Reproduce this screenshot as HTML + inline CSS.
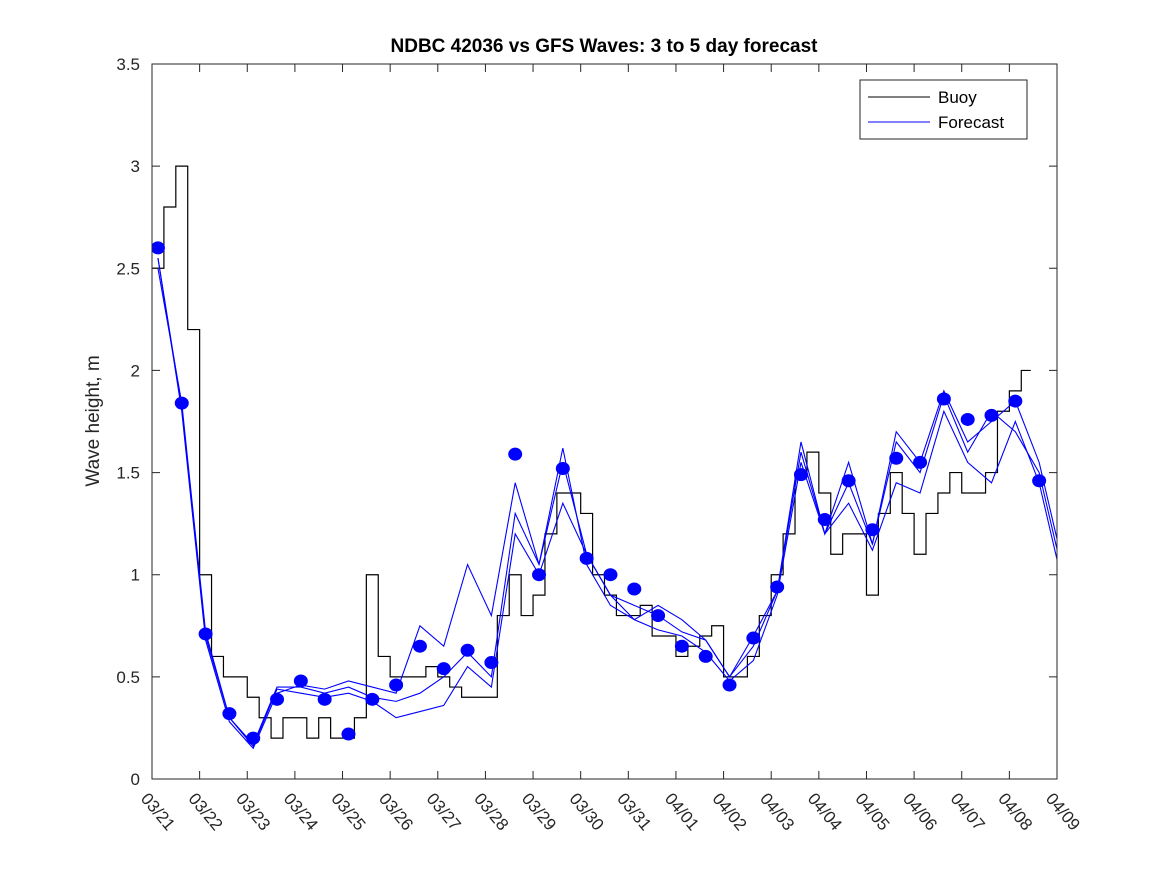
<!DOCTYPE html>
<html><head><meta charset="utf-8"><style>
body{margin:0;background:#fff;}
svg text{font-family:"Liberation Sans",sans-serif;}
</style></head><body>
<svg id="chart" width="1167" height="875" xmlns="http://www.w3.org/2000/svg">
<rect width="1167" height="875" fill="#fff"/>
<text x="604" y="52" text-anchor="middle" font-size="19" font-weight="bold" fill="#000">NDBC 42036 vs GFS Waves: 3 to 5 day forecast</text>
<text transform="translate(99,421) rotate(-90)" text-anchor="middle" font-size="19" fill="#262626">Wave height, m</text>
<defs><clipPath id="clip"><rect x="152" y="64" width="905" height="715"/></clipPath></defs>
<g id="marks" clip-path="url(#clip)"></g>
<rect x="152" y="64" width="905" height="715" fill="none" stroke="#262626" stroke-width="1"/>
<g id="ticks"></g>
<g>
<rect x="860" y="80" width="167" height="59" fill="#fff" stroke="#262626"/>
<line x1="868" y1="97" x2="930" y2="97" stroke="#000"/>
<text x="938" y="103" font-size="17">Buoy</text>
<line x1="868" y1="122" x2="930" y2="122" stroke="#0000ff"/>
<text x="938" y="128" font-size="17">Forecast</text>
</g>
</svg>
<script>
const xLabels=["03/21","03/22","03/23","03/24","03/25","03/26","03/27","03/28","03/29","03/30","03/31","04/01","04/02","04/03","04/04","04/05","04/06","04/07","04/08","04/09"];
const yTicks=[0,0.5,1,1.5,2,2.5,3,3.5];
const buoyStart=0, buoyStep=0.25;
const buoy=[2.5,2.8,3.0,2.2, 1.0,0.6,0.5,0.5, 0.4,0.3,0.2,0.3, 0.3,0.2,0.3,0.2, 0.2,0.3,1.0,0.6, 0.5,0.5,0.5,0.55, 0.5,0.45,0.4,0.4, 0.4,0.8,1.0,0.8, 0.9,1.2,1.4,1.4, 1.3,1.0,0.9,0.8, 0.8,0.85,0.7,0.7, 0.6,0.65,0.7,0.75, 0.5,0.5,0.6,0.8, 1.0,1.2,1.5,1.6, 1.4,1.1,1.2,1.2, 0.9,1.3,1.5,1.3, 1.1,1.3,1.4,1.5, 1.4,1.4,1.5,1.8, 1.9,2.0];
const fcStart=0.125, fcStep=0.5;
const obsDots=[2.6,1.84,0.71,0.32,0.20,0.39,0.48,0.39,0.22,0.39,0.46,0.65,0.54,0.63,0.57,1.59,1.0,1.52,1.08,1.0,0.93,0.80,0.65,0.60,0.46,0.69,0.94,1.49,1.27,1.46,1.22,1.57,1.55,1.86,1.76,1.78,1.85,1.46];
const fcA=[2.5,1.84,0.72,0.30,0.17,0.45,0.45,0.42,0.45,0.40,0.38,0.42,0.50,0.62,0.5,1.3,1.05,1.55,1.1,0.9,0.85,0.80,0.72,0.68,0.5,0.65,0.92,1.6,1.2,1.45,1.15,1.65,1.5,1.88,1.6,1.8,1.7,1.5,1.0];
const fcB=[2.55,1.8,0.68,0.28,0.15,0.42,0.46,0.44,0.48,0.45,0.42,0.75,0.65,1.05,0.8,1.45,1.05,1.62,1.05,0.85,0.78,0.85,0.78,0.68,0.5,0.7,0.92,1.65,1.2,1.55,1.15,1.7,1.55,1.9,1.65,1.75,1.85,1.55,1.05];
const fcC=[2.55,1.82,0.70,0.30,0.16,0.44,0.42,0.40,0.42,0.38,0.30,0.33,0.36,0.55,0.45,1.2,1.0,1.35,1.1,0.9,0.78,0.73,0.7,0.62,0.48,0.58,0.9,1.55,1.2,1.35,1.12,1.45,1.4,1.8,1.55,1.45,1.75,1.45,0.95];
const X0=152,X1=1057,Y0=779,Y1=64;
const xs=d=>X0+d*(X1-X0)/19;
const ys=v=>Y0-v*(Y0-Y1)/3.5;
const NS="http://www.w3.org/2000/svg";
function mk(t,a,p){const e=document.createElementNS(NS,t);for(const k in a)e.setAttribute(k,a[k]);p.appendChild(e);return e;}
const ticks=document.getElementById('ticks'),marks=document.getElementById('marks');
yTicks.forEach(v=>{const y=ys(v);
const l=mk('path',{d:`M${X0} ${y}h8M${X1} ${y}h-8`,stroke:'#262626'},ticks);


const t=mk('text',{x:140,y:y+6,'text-anchor':'end','font-size':17,fill:'#262626'},ticks);t.textContent=String(v);

});
xLabels.forEach((s,i)=>{const x=xs(i);
const l=mk('path',{d:`M${x} ${Y0}v-8M${x} ${Y1}v8`,stroke:'#262626'},ticks);


const t=mk('text',{transform:`translate(${x-12},${Y0+20}) rotate(50)`,'font-size':17,fill:'#262626'},ticks);t.textContent=s;

});
let d='';buoy.forEach((v,i)=>{const x=xs(buoyStart+i*buoyStep),y=ys(v);d+=(i?`H${x}V${y}`:`M${x} ${y}`);});
d+=`H${xs(buoyStart+buoy.length*buoyStep-0.05)}`;
const bp=mk('path',{d:d,fill:'none',stroke:'#000','stroke-width':1.2},marks);


[fcA,fcB,fcC].forEach((arr,k)=>{const p=mk('path',{d:arr.map((v,i)=>(i?'L':'M')+xs(fcStart+i*fcStep)+' '+ys(v)).join(''),fill:'none',stroke:'#0000ff','stroke-width':1.1},marks);

});
obsDots.forEach((v,i)=>{const c=mk('ellipse',{cx:xs(fcStart+i*fcStep),cy:ys(v),rx:7,ry:6.5,fill:'#0000ff'},marks);

});
</script>
</body></html>
